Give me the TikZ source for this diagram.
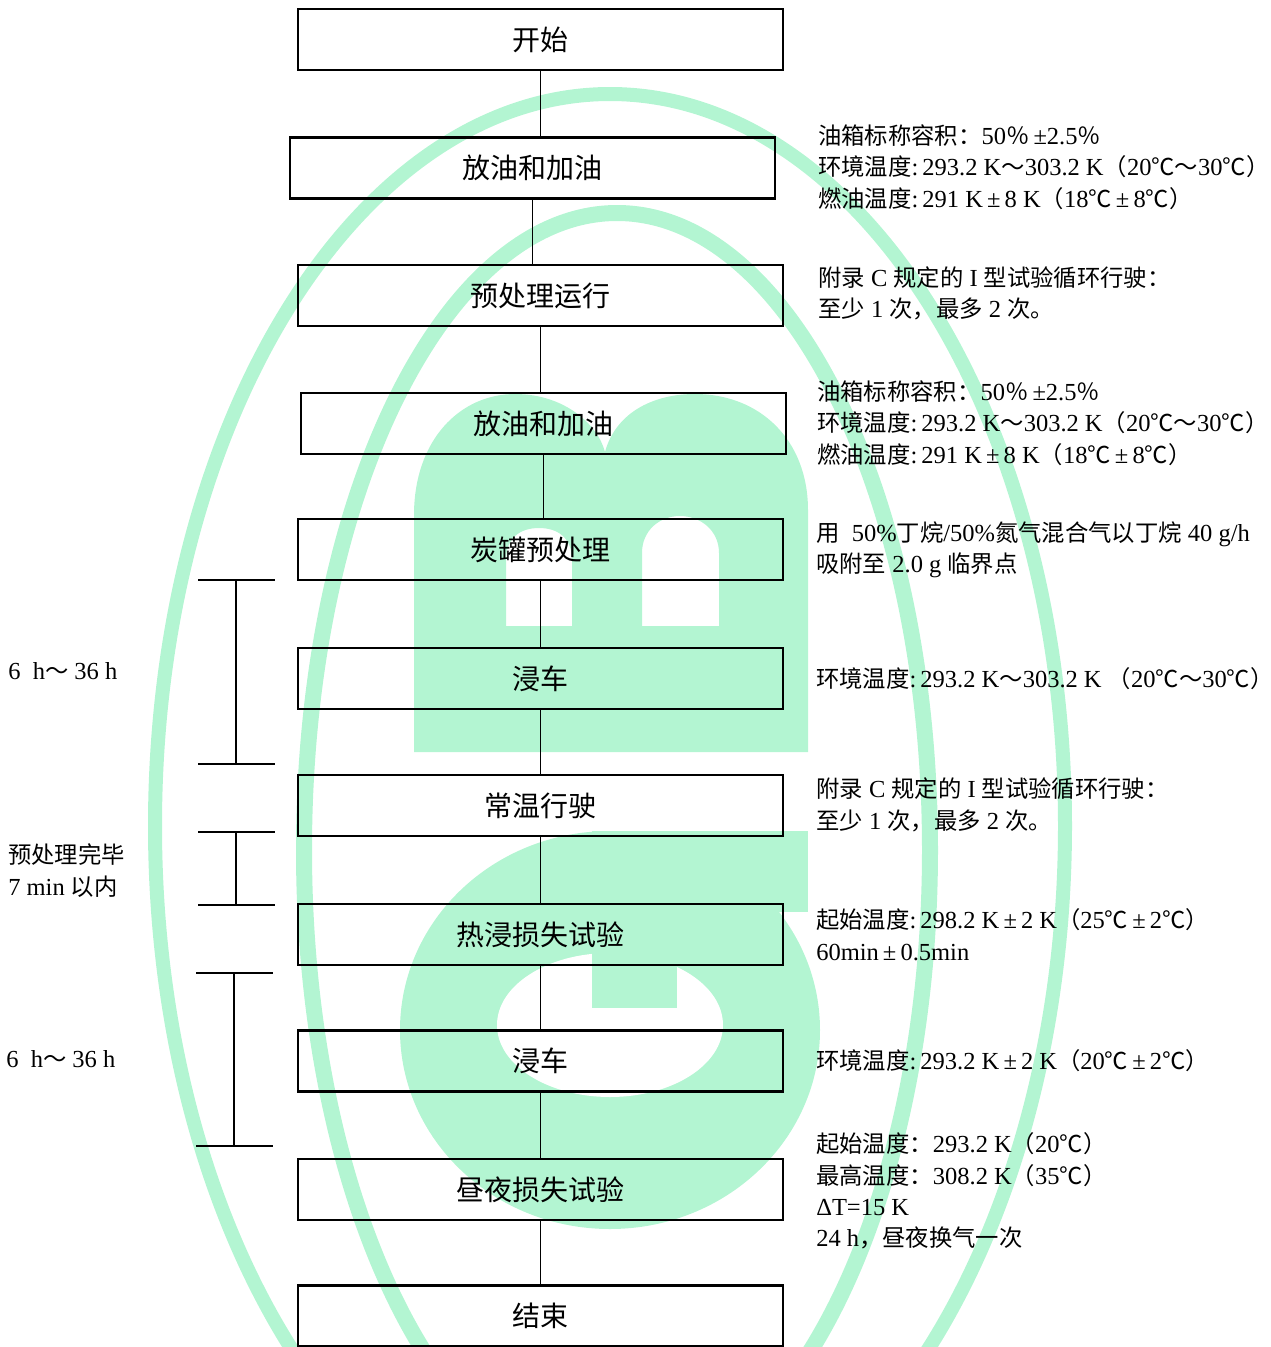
\documentclass[tikz,border=0pt]{standalone}
\usepackage{fontspec}
\setmainfont{Liberation Serif}[Scale=1.05]
\newfontfamily\cjk{Noto Sans CJK SC}
\newcommand\zh[1]{{\cjk #1}}
\definecolor{wmgreen}{RGB}{179,245,210}
\begin{document}
\begin{tikzpicture}[x=0.75pt, y=-0.75pt,
    box/.style={draw, line width=1.8pt, minimum width=363.75pt, minimum height=45.75pt,
        inner sep=0pt, font=\fontsize{21}{25}\selectfont\cjk},
    note/.style={anchor=west, align=left, inner sep=0pt, font=\fontsize{17.5}{23.6}\selectfont},
    link/.style={line width=0.75pt},
    span/.style={line width=0.9pt}]
    \useasboundingbox (0,0) rectangle (1271,1347);
    \clip (0,0) rectangle (1271,1347);
    % watermark
    \draw[wmgreen, line width=10.5pt] (610,826) ellipse [x radius=341.25pt, y radius=549pt];
    \draw[wmgreen, line width=12pt] (617,850) ellipse [x radius=234.75pt, y radius=477.75pt];
    \fill[wmgreen, even odd rule] (414,752) -- (414,515) .. controls (414,440) and (460,394) .. (515,394)
        .. controls (565,394) and (598,425) .. (605,452) .. controls (615,415) and (650,394) .. (695,394)
        .. controls (760,394) and (808,440) .. (808,510) -- (808,752) -- cycle
        (506,626) -- (506,560) .. controls (506,538) and (520,528) .. (539,528) .. controls (558,528) and (572,538) .. (572,560) -- (572,626) -- cycle
        (642,626) -- (642,553) .. controls (642,530) and (660,516) .. (680,516) .. controls (700,516) and (719,530) .. (719,553) -- (719,626) -- cycle;
    \fill[wmgreen] (610,1030) ellipse [x radius=157.5pt, y radius=149.25pt];
    \fill[wmgreen] (592,831) rectangle (808,912);
    \fill[white] (610,1025) ellipse [x radius=84.75pt, y radius=54pt];
    \fill[wmgreen] (592,831) rectangle (677,1008);

    % flow
    \node[box] (b1) at (540.5,39.5) {开始};
    \node[box] (b2) at (532.5,168) {放油和加油};
    \node[box] (b3) at (540.5,295.5) {预处理运行};
    \node[box] (b4) at (543.5,423.5) {放油和加油};
    \node[box] (b5) at (540.5,549.5) {炭罐预处理};
    \node[box] (b6) at (540.5,678.5) {浸车};
    \node[box] (b7) at (540.5,805.5) {常温行驶};
    \node[box] (b8) at (540.5,934.5) {热浸损失试验};
    \node[box] (b9) at (540.5,1061) {浸车};
    \node[box] (b10) at (540.5,1189.5) {昼夜损失试验};
    \node[box] (b11) at (540.5,1316) {结束};
    \foreach \i/\j in {1/2,2/3,3/4,4/5,5/6,6/7,7/8,8/9,9/10,10/11}
        \draw[link] (b\i.south) -- (b\i.south |- b\j.north);

    % conditions
    \node[note] (n2) at (818,167) {\zh{油箱标称容积：}50\zh{％}\,±2.5\zh{％}\\
        \zh{环境温度}:\,293.2 K\zh{～}303.2 K\zh{（}20\zh{℃～}30\zh{℃）}\\
        \zh{燃油温度}:\,291 K\,±\,8 K\zh{（}18\zh{℃}\,±\,8\zh{℃）}};
    \node[note] (n3) at (818,293.5) {\zh{附录} C \zh{规定的} I \zh{型试验循环行驶：}\\
        \zh{至少} 1 \zh{次，最多} 2 \zh{次。}};
    \node[note] (n4) at (817,423) {\zh{油箱标称容积：}50\zh{％}\,±2.5\zh{％}\\
        \zh{环境温度}:\,293.2 K\zh{～}303.2 K\zh{（}20\zh{℃～}30\zh{℃）}\\
        \zh{燃油温度}:\,291 K\,±\,8 K\zh{（}18\zh{℃}\,±\,8\zh{℃）}};
    \node[note] (n5) at (816,550) {\zh{用}\ \ 50\%\zh{丁烷}/50\%\zh{氮气混合气以丁烷} 40 g/h\\
        \zh{吸附至} 2.0 g \zh{临界点}};
    \node[note] (n6) at (816,679) {\zh{环境温度}:\,293.2 K\zh{～}303.2 K \zh{（}20\zh{℃～}30\zh{℃）}};
    \node[note] (n7) at (816,805) {\zh{附录} C \zh{规定的} I \zh{型试验循环行驶：}\\
        \zh{至少} 1 \zh{次，最多} 2 \zh{次。}};
    \node[note] (n8) at (816,934.5) {\zh{起始温度}:\,298.2 K\,±\,2 K\zh{（}25\zh{℃}\,±\,2\zh{℃）}\\
        60min\,±\,0.5min};
    \node[note] (n9) at (816,1061) {\zh{环境温度}:\,293.2 K\,±\,2 K\zh{（}20\zh{℃}\,±\,2\zh{℃）}};
    \node[note] (n10) at (816,1191) {\zh{起始温度：}293.2 K\zh{（}20\zh{℃）}\\
        \zh{最高温度：}308.2 K\zh{（}35\zh{℃）}\\
        ΔT=15 K\\
        24 h\zh{，昼夜换气一次}};

    % time spans
    \foreach \x/\t/\b in {236/580/764, 236/832/905, 234/973/1146}
        \draw[span] (\x-38,\t) -- (\x+39,\t) (\x,\t) -- (\x,\b) (\x-38,\b) -- (\x+39,\b);
    \node[note] (t1) at (8,671) {6\ \ h\zh{～} 36 h};
    \node[note] (t2) at (8,870.5) {\zh{预处理完毕}\\7 min \zh{以内}};
    \node[note] (t3) at (6,1059) {6\ \ h\zh{～} 36 h};
\end{tikzpicture}
\end{document}
